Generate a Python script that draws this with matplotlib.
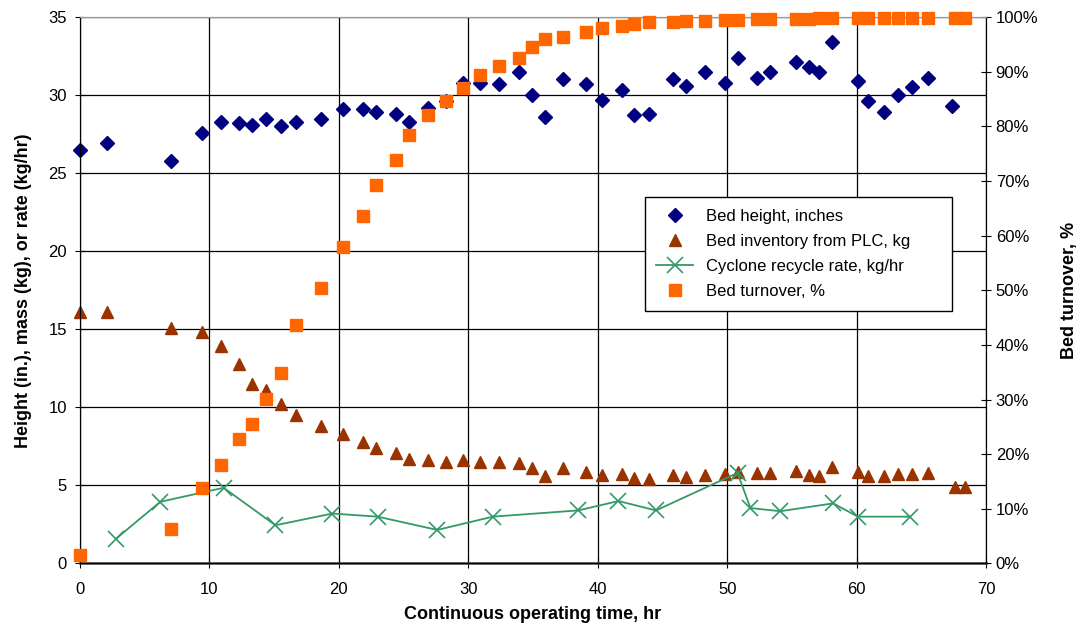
import matplotlib
matplotlib.use('Agg')
import matplotlib.pyplot as plt
from matplotlib.ticker import FuncFormatter

plt.rcParams['font.family'] = ['Liberation Sans', 'DejaVu Sans']

# Bed height (in.)
t_height = [0, 2.1, 7.0, 9.45, 10.9, 12.3, 13.3, 14.35, 15.5, 16.7, 18.6, 20.3, 21.9, 22.9,
            24.4, 25.4, 26.9, 28.3, 29.6, 30.9, 32.4, 33.9, 34.9, 35.9, 37.3, 39.1, 40.3,
            41.9, 42.8, 44.0, 45.8, 46.8, 48.3, 49.8, 50.8, 52.3, 53.3, 55.3, 56.3, 57.1,
            58.1, 60.1, 60.9, 62.1, 63.2, 64.3, 65.5, 67.4]
bed_height = [26.5, 26.9, 25.8, 27.6, 28.3, 28.2, 28.1, 28.5, 28.0, 28.3, 28.5, 29.1, 29.1, 28.9,
              28.8, 28.3, 29.2, 29.6, 30.8, 30.8, 30.7, 31.5, 30.0, 28.6, 31.0, 30.7, 29.7,
              30.3, 28.7, 28.8, 31.0, 30.6, 31.5, 30.8, 32.4, 31.1, 31.5, 32.1, 31.8, 31.5,
              33.4, 30.9, 29.6, 28.9, 30.0, 30.5, 31.1, 29.3]

# Bed inventory from PLC (kg)
t_inv = [0, 2.1, 7.0, 9.45, 10.9, 12.3, 13.3, 14.35, 15.5, 16.7, 18.6, 20.3, 21.9, 22.9,
         24.4, 25.4, 26.9, 28.3, 29.6, 30.9, 32.4, 33.9, 34.9, 35.9, 37.3, 39.1, 40.3,
         41.9, 42.8, 44.0, 45.8, 46.8, 48.3, 49.8, 50.8, 52.3, 53.3, 55.3, 56.3, 57.1,
         58.1, 60.1, 60.9, 62.1, 63.2, 64.3, 65.5, 67.6, 68.4]
bed_inv = [16.1, 16.1, 15.1, 14.8, 13.9, 12.8, 11.5, 11.1, 10.2, 9.5, 8.8, 8.3, 7.8, 7.4,
           7.05, 6.7, 6.6, 6.5, 6.6, 6.5, 6.5, 6.45, 6.1, 5.6, 6.1, 5.85, 5.65,
           5.75, 5.5, 5.4, 5.65, 5.55, 5.7, 5.75, 5.85, 5.8, 5.8, 5.95, 5.7, 5.6,
           6.2, 5.85, 5.6, 5.6, 5.75, 5.75, 5.8, 4.9, 4.9]

# Cyclone recycle rate (kg/hr)
t_cyc = [2.8, 6.2, 11.1, 15.1, 19.5, 23.0, 27.6, 31.9, 38.5, 41.6, 44.5, 50.8, 51.8, 54.1,
         58.2, 60.1, 64.1]
cyc_rate = [1.6, 3.95, 4.85, 2.45, 3.2, 3.0, 2.15, 3.0, 3.4, 4.0, 3.4, 5.8, 3.55, 3.35,
            3.85, 3.0, 3.0]

# Bed turnover (%)
t_turn = [0, 7.0, 9.45, 10.9, 12.3, 13.3, 14.35, 15.5, 16.7, 18.6, 20.3, 21.9, 22.9,
          24.4, 25.4, 26.9, 28.3, 29.6, 30.9, 32.4, 33.9, 34.9, 35.9, 37.3, 39.1, 40.3,
          41.9, 42.8, 44.0, 45.8, 46.8, 48.3, 49.8, 50.8, 52.3, 53.3, 55.3, 56.3, 57.1,
          58.1, 60.1, 60.9, 62.1, 63.2, 64.3, 65.5, 67.6, 68.4]
turnover = [1.6, 6.4, 13.9, 18.1, 22.7, 25.5, 30.1, 34.8, 43.6, 50.5, 57.9, 63.5, 69.3,
            73.9, 78.5, 82.1, 84.6, 87.0, 89.4, 91.1, 92.5, 94.5, 96.0, 96.3, 97.2, 97.9,
            98.3, 98.7, 99.0, 99.0, 99.2, 99.3, 99.4, 99.5, 99.6, 99.6, 99.7, 99.7, 99.8,
            99.8, 99.8, 99.9, 99.9, 99.9, 99.9, 99.9, 99.9, 99.9]

fig = plt.figure(figsize=(10.84, 6.35), dpi=100)
ax = fig.add_axes([0.0738, 0.1126, 0.8358, 0.8606])
ax2 = ax.twinx()

h1, = ax.plot(t_height, bed_height, 'D', color='#000080', ms=7, ls='none',
              label='Bed height, inches', zorder=4, clip_on=False)
h2, = ax.plot(t_inv, bed_inv, '^', color='#993300', ms=9, ls='none',
              label='Bed inventory from PLC, kg', zorder=4, clip_on=False)
h3, = ax.plot(t_cyc, cyc_rate, '-x', color='#339966', ms=11, mew=1.2, lw=1.3,
              label='Cyclone recycle rate, kg/hr', zorder=4, clip_on=False)
h4, = ax2.plot(t_turn, turnover, 's', color='#FF6600', ms=9, ls='none',
               label='Bed turnover, %', zorder=3, clip_on=False)

ax.set_xlim(0, 70)
ax.set_ylim(0, 35)
ax2.set_ylim(0, 100)
ax.set_xticks(range(0, 71, 10))
ax.set_yticks(range(0, 36, 5))
ax2.set_yticks(range(0, 101, 10))
ax2.yaxis.set_major_formatter(FuncFormatter(lambda v, p: '%d%%' % v))

ax.grid(True, color='black', lw=0.9)
ax.set_axisbelow(True)

for a in (ax, ax2):
    a.tick_params(labelsize=12, direction='inout', length=7)
    a.spines['top'].set_color('#999999')
ax.tick_params(axis='x', pad=10)
ax.tick_params(axis='y', pad=6)
ax.spines['bottom'].set_color('#444444')
ax.spines['bottom'].set_linewidth(1.8)

ax.set_xlabel('Continuous operating time, hr', fontsize=13, fontweight='bold', labelpad=6)
ax.set_ylabel('Height (in.), mass (kg), or rate (kg/hr)', fontsize=13, fontweight='bold', labelpad=12)
ax2.set_ylabel('Bed turnover, %', fontsize=13, fontweight='bold', labelpad=16)

leg = ax2.legend(handles=[h1, h2, h3, h4], loc='upper left',
                 bbox_to_anchor=(0.614, 0.449, 0.358, 0.236), mode='expand',
                 fontsize=12, frameon=True, fancybox=False, edgecolor='black',
                 framealpha=1, borderpad=0.7, labelspacing=0.6, handlelength=2.2)
leg.get_frame().set_linewidth(1.0)

fig.savefig('out.png', dpi=100)
